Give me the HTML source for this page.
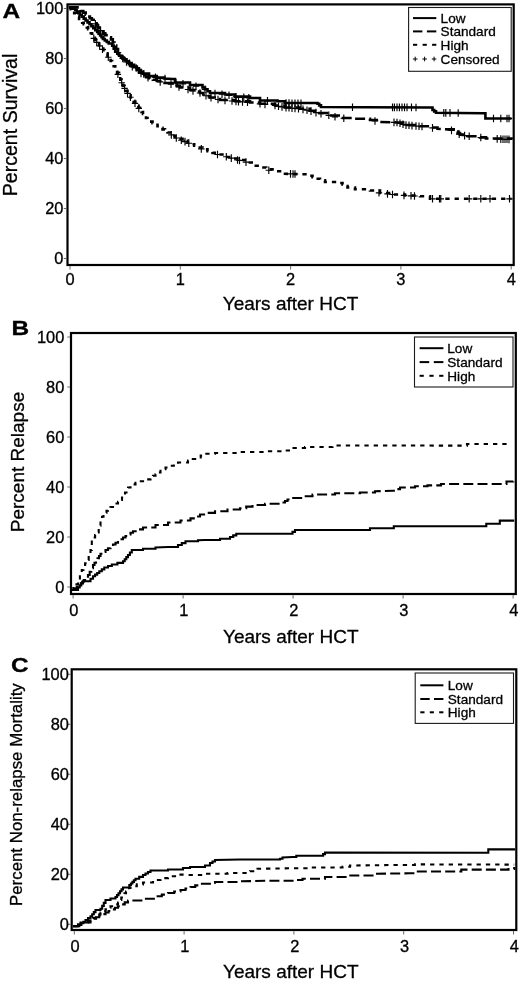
<!DOCTYPE html>
<html lang="en"><head><meta charset="utf-8"><title>Survival, relapse and non-relapse mortality after HCT</title>
<style>html,body{margin:0;padding:0;background:#fff}svg{display:block;filter:blur(0.45px)}text{font-family:'Liberation Sans', Arial, Helvetica, sans-serif;fill:#000;stroke:#000;stroke-width:0.3px}</style>
</head><body>
<svg width="520" height="982" viewBox="0 0 520 982">
<rect width="520" height="982" fill="#fff"/>
<g id="panelA">
<path d="M119.5 58.5H125.9M122.7 54.7V62.3M126.2 63.3H132.6M129.4 59.5V67.1M133.0 68.0H139.4M136.2 64.2V71.8M140.6 73.9H147.0M143.8 70.1V77.7M152.2 77.3H158.6M155.4 73.5V81.1M161.8 78.6H168.2M165.0 74.8V82.4M172.8 82.7H179.2M176.0 78.9V86.5M179.8 83.8H186.2M183.0 80.0V87.6M192.8 86.2H199.2M196.0 82.4V90.0M201.8 89.3H208.2M205.0 85.5V93.1M211.8 93.5H218.2M215.0 89.7V97.3M218.8 94.2H225.2M222.0 90.4V98.0M225.8 95.3H232.2M229.0 91.5V99.1M232.8 96.7H239.2M236.0 92.9V100.5M240.6 97.4H247.0M243.8 93.6V101.2M245.6 97.9H252.0M248.8 94.1V101.7M264.3 100.8H270.7M267.5 97.0V104.6M282.8 103.0H289.2M286.0 99.2V106.8M285.8 103.1H292.2M289.0 99.3V106.9M288.8 103.2H295.2M292.0 99.4V107.0M291.8 103.2H298.2M295.0 99.4V107.0M294.8 103.3H301.2M298.0 99.5V107.1M297.8 103.4H304.2M301.0 99.6V107.2M349.3 107.2H355.7M352.5 103.4V111.0M389.3 107.4H395.7M392.5 103.6V111.2M391.2 107.4H397.6M394.4 103.6V111.2M393.8 107.4H400.2M397.0 103.6V111.2M396.2 107.4H402.6M399.4 103.6V111.2M398.8 107.4H405.2M402.0 103.6V111.2M401.3 107.4H407.7M404.5 103.6V111.2M403.8 107.4H410.2M407.0 103.6V111.2M408.3 107.4H414.7M411.5 103.6V111.2M412.8 107.5H419.2M416.0 103.7V111.3M440.6 112.9H447.0M443.8 109.1V116.7M442.6 112.9H449.0M445.8 109.1V116.7M446.8 112.9H453.2M450.0 109.1V116.7M455.0 113.0H461.4M458.2 109.2V116.8M490.3 118.5H496.7M493.5 114.7V122.3M497.6 118.5H504.0M500.8 114.7V122.3M503.8 118.5H510.2M507.0 114.7V122.3M505.8 118.5H512.2M509.0 114.7V122.3" stroke="#000" stroke-width="1.15" fill="none"/>
<path d="M92.2 23.8H98.6M95.4 20.0V27.6M94.5 27.0H100.9M97.7 23.2V30.8M97.4 30.6H103.8M100.6 26.8V34.4M100.8 34.1H107.2M104.0 30.3V37.9M114.8 52.5H121.2M118.0 48.7V56.3M123.3 62.0H129.7M126.5 58.2V65.8M129.1 66.6H135.5M132.3 62.8V70.4M137.8 73.5H144.2M141.0 69.7V77.3M144.8 77.8H151.2M148.0 74.0V81.6M157.0 81.9H163.4M160.2 78.1V85.7M167.8 84.1H174.2M171.0 80.3V87.9M175.8 87.0H182.2M179.0 83.2V90.8M184.8 89.5H191.2M188.0 85.7V93.3M189.8 90.9H196.2M193.0 87.1V94.7M196.8 93.0H203.2M200.0 89.2V96.8M202.8 95.7H209.2M206.0 91.9V99.5M207.8 97.8H214.2M211.0 94.0V101.5M214.8 99.5H221.2M218.0 95.7V103.3M221.8 100.4H228.2M225.0 96.6V104.2M228.8 101.0H235.2M232.0 97.2V104.8M232.8 101.4H239.2M236.0 97.6V105.2M235.3 101.6H241.7M238.5 97.8V105.4M239.3 101.9H245.7M242.5 98.1V105.7M244.3 102.3H250.7M247.5 98.5V106.1M256.8 103.8H263.2M260.0 100.0V107.6M261.8 104.4H268.2M265.0 100.6V108.2M271.8 105.5H278.2M275.0 101.7V109.3M275.3 106.2H281.7M278.5 102.4V110.0M278.8 106.9H285.2M282.0 103.1V110.7M282.8 107.6H289.2M286.0 103.8V111.4M285.8 107.8H292.2M289.0 104.0V111.6M288.8 108.1H295.2M292.0 104.3V111.9M291.8 108.4H298.2M295.0 104.6V112.2M295.3 108.7H301.7M298.5 104.9V112.5M299.8 109.4H306.2M303.0 105.6V113.2M303.8 110.2H310.2M307.0 106.4V114.0M307.8 111.1H314.2M311.0 107.3V114.9M312.8 112.6H319.2M316.0 108.8V116.4M317.8 113.7H324.2M321.0 109.9V117.5M325.6 115.3H332.0M328.8 111.5V119.1M331.8 116.8H338.2M335.0 113.0V120.5M340.6 118.2H347.0M343.8 114.4V122.0M371.8 121.0H378.2M375.0 117.2V124.8M390.8 122.4H397.2M394.0 118.6V126.2M393.8 122.5H400.2M397.0 118.7V126.3M396.8 123.3H403.2M400.0 119.5V127.1M399.8 124.3H406.2M403.0 120.5V128.1M402.8 125.1H409.2M406.0 121.3V128.9M405.8 125.3H412.2M409.0 121.5V129.1M408.8 125.6H415.2M412.0 121.8V129.4M412.8 126.0H419.2M416.0 122.2V129.8M415.8 126.2H422.2M419.0 122.4V130.0M418.8 126.5H425.2M422.0 122.7V130.3M429.3 127.9H435.7M432.5 124.1V131.7M448.3 130.4H454.7M451.5 126.6V134.2M456.0 134.1H462.4M459.2 130.3V137.9M461.4 135.6H467.8M464.6 131.8V139.4M466.0 136.3H472.4M469.2 132.5V140.1M477.6 137.5H484.0M480.8 133.7V141.3M494.0 138.9H500.4M497.2 135.1V142.7M497.6 139.1H504.0M500.8 135.3V142.9M499.8 139.2H506.2M503.0 135.4V143.0M501.8 139.2H508.2M505.0 135.4V143.0M503.8 139.3H510.2M507.0 135.5V143.1M505.8 139.4H512.2M509.0 135.6V143.2" stroke="#000" stroke-width="1.15" fill="none"/>
<path d="M90.6 38.3H97.0M93.8 34.5V42.1M93.5 42.3H99.9M96.7 38.5V46.1M96.4 45.8H102.8M99.6 42.0V49.6M99.3 49.3H105.7M102.5 45.5V53.1M105.1 57.2H111.5M108.3 53.4V61.0M114.7 74.3H121.1M117.9 70.5V78.1M118.5 82.7H124.9M121.7 78.9V86.5M121.4 88.4H127.8M124.6 84.6V92.2M124.3 93.4H130.7M127.5 89.6V97.2M127.2 97.2H133.6M130.4 93.4V101.0M131.8 103.3H138.2M135.0 99.5V107.1M135.6 108.4H142.0M138.8 104.6V112.2M168.1 134.9H174.5M171.3 131.1V138.7M173.1 138.0H179.5M176.3 134.2V141.8M178.1 140.2H184.5M181.3 136.4V144.0M181.8 141.6H188.2M185.0 137.8V145.4M185.6 143.2H192.0M188.8 139.3V147.0M198.1 148.9H204.5M201.3 145.1V152.7M214.3 154.5H220.7M217.5 150.7V158.3M223.1 156.7H229.5M226.3 152.9V160.5M228.1 158.1H234.5M231.3 154.3V161.9M234.3 160.0H240.7M237.5 156.2V163.8M236.3 160.5H242.7M239.5 156.7V164.3M242.8 162.1H249.2M246.0 158.3V165.9M265.6 170.2H272.0M268.8 166.4V174.0M287.3 173.9H293.7M290.5 170.1V177.7M289.8 174.0H296.2M293.0 170.2V177.8M291.8 174.0H298.2M295.0 170.2V177.8M375.8 192.8H382.2M379.0 188.9V196.6M384.3 193.9H390.7M387.5 190.1V197.7M389.3 194.5H395.7M392.5 190.7V198.3M400.8 195.4H407.2M404.0 191.6V199.2M407.8 195.8H414.2M411.0 192.0V199.6M411.3 196.0H417.7M414.5 192.2V199.8M429.3 198.8H435.7M432.5 195.0V202.6M436.3 198.8H442.7M439.5 195.0V202.6M437.6 198.8H444.0M440.8 195.0V202.6M466.0 198.8H472.4M469.2 195.0V202.6M477.6 198.8H484.0M480.8 195.0V202.6M486.8 198.8H493.2M490.0 195.0V202.6M506.3 198.8H512.7M509.5 195.0V202.6" stroke="#000" stroke-width="1.15" fill="none"/>
<polyline points="68.9,7.4 70.7,7.4 70.7,9.3 72.5,9.3 72.5,11.2 74.2,11.2 74.2,13.1 76.0,13.1 76.0,15.0 77.5,15.0 77.5,16.9 79.1,16.9 79.1,18.9 80.7,18.9 80.7,20.9 82.2,20.9 82.2,22.8 83.7,22.8 83.7,24.3 85.3,24.3 85.3,25.9 86.8,25.9 86.8,27.4 88.1,27.4 88.1,29.3 89.5,29.3 89.5,31.3 90.8,31.3 90.8,33.2 92.1,33.2 92.1,35.5 93.5,35.5 93.5,37.7 94.8,37.7 94.8,40.0 96.2,40.0 96.2,41.8 97.7,41.8 97.7,43.5 99.1,43.5 99.1,45.2 100.6,45.2 100.6,47.0 101.9,47.0 101.9,48.6 103.3,48.6 103.3,50.2 104.7,50.2 104.7,51.8 106.0,51.8 106.0,53.4 107.5,53.4 107.5,55.9 109.1,55.9 109.1,58.5 110.6,58.5 110.6,61.0 112.1,61.0 112.1,63.6 113.7,63.6 113.7,66.2 115.2,66.2 115.2,68.8 117.1,68.8 117.1,72.7 119.0,72.7 119.0,76.5 120.3,76.5 120.3,79.6 121.7,79.6 121.7,82.6 123.0,82.6 123.0,85.7 124.5,85.7 124.5,88.3 126.0,88.3 126.0,90.8 127.5,90.8 127.5,93.4 129.1,93.4 129.1,95.4 130.6,95.4 130.6,97.5 132.2,97.5 132.2,99.5 133.7,99.5 133.7,101.6 135.3,101.6 135.3,103.6 136.8,103.6 136.8,105.7 138.4,105.7 138.4,107.8 140.0,107.8 140.0,110.0 141.5,110.0 141.5,112.0 143.0,112.0 143.0,114.0 144.5,114.0 144.5,116.0 146.0,116.0 146.0,118.0 147.5,118.0 147.5,120.0 150.0,120.0 150.0,121.6 152.5,121.6 152.5,123.2 155.0,123.2 155.0,124.7 157.5,124.7 157.5,126.3 160.0,126.3 160.0,127.8 162.5,127.8 162.5,129.4 165.0,129.4 165.0,130.9 167.5,130.9 167.5,132.5 170.0,132.5 170.0,134.1 172.5,134.1 172.5,135.7 175.0,135.7 175.0,137.2 177.5,137.2 177.5,138.8 182.5,138.8 182.5,140.7 187.5,140.7 187.5,142.5 190.8,142.5 190.8,144.2 194.2,144.2 194.2,145.8 197.5,145.8 197.5,147.5 202.5,147.5 202.5,149.4 207.5,149.4 207.5,151.3 212.5,151.3 212.5,152.9 217.5,152.9 217.5,154.5 227.5,154.5 227.5,157.0 232.5,157.0 232.5,158.5 237.5,158.5 237.5,160.0 247.5,160.0 247.5,162.5 251.7,162.5 251.7,164.2 255.8,164.2 255.8,165.8 260.0,165.8 260.0,167.5 266.2,167.5 266.2,169.4 272.5,169.4 272.5,171.3 285.0,171.3 285.0,173.8 307.5,174.3 310.0,174.3 310.0,175.8 312.5,175.8 312.5,177.3 315.0,177.3 315.0,178.8 320.0,178.8 320.0,180.4 325.0,180.4 325.0,182.0 340.0,182.0 340.0,183.0 342.5,183.0 342.5,184.5 345.0,184.5 345.0,186.0 347.5,186.0 347.5,187.5 355.0,187.5 355.0,189.3 370.0,189.3 370.0,190.5 380.0,190.5 380.0,193.0 392.5,193.0 392.5,194.5 405.0,194.5 405.0,195.5 420.0,195.5 420.0,196.3 430.0,196.3 430.0,198.8 511.5,198.8" fill="none" stroke="#000" stroke-width="2.6" stroke-linejoin="miter" stroke-dasharray="4.3 5"/>
<polyline points="68.9,7.4 77.5,7.4 77.5,9.6 80.4,9.6 80.4,11.1 83.3,11.1 83.3,12.6 85.7,12.6 85.7,14.6 88.0,14.6 88.0,16.6 89.9,16.6 89.9,18.2 91.8,18.2 91.8,19.8 93.7,19.8 93.7,21.4 95.2,21.4 95.2,23.4 96.6,23.4 96.6,25.4 98.0,25.4 98.0,27.5 99.5,27.5 99.5,29.5 101.4,29.5 101.4,31.4 103.3,31.4 103.3,33.4 105.2,33.4 105.2,35.3 108.1,35.3 108.1,37.3 111.0,37.3 111.0,39.4 112.8,39.4 112.8,42.5 114.5,42.5 114.5,45.5 116.2,45.5 116.2,49.0 118.0,49.0 118.0,52.5 119.5,52.5 119.5,54.5 121.0,54.5 121.0,56.6 122.5,56.6 122.5,58.6 124.7,58.6 124.7,60.5 126.8,60.5 126.8,62.3 129.0,62.3 129.0,64.2 131.6,64.2 131.6,66.1 134.2,66.1 134.2,67.9 136.8,67.9 136.8,69.8 138.9,69.8 138.9,71.6 140.9,71.6 140.9,73.4 143.0,73.4 143.0,75.2 146.0,75.2 146.0,76.8 149.0,76.8 149.0,78.3 152.9,78.3 152.9,79.7 156.8,79.7 156.8,81.0 164.5,81.0 164.5,83.0 173.7,83.0 173.7,84.6 176.8,84.6 176.8,86.0 180.0,86.0 180.0,87.5 190.0,87.5 190.0,90.0 195.0,90.0 195.0,91.5 200.0,91.5 200.0,93.0 203.3,93.0 203.3,94.5 206.7,94.5 206.7,96.0 210.0,96.0 210.0,97.5 220.0,97.5 220.0,100.0 235.0,100.0 235.0,101.3 250.0,101.3 250.0,102.5 260.0,102.5 260.0,103.8 275.0,103.8 275.0,105.5 285.0,105.5 285.0,107.5 300.0,107.5 300.0,108.8 310.0,108.8 310.0,110.8 317.5,110.8 317.5,113.0 330.0,113.0 330.0,115.5 340.0,115.5 340.0,118.0 355.0,118.0 355.0,118.8 370.0,118.8 370.0,120.0 380.0,120.0 380.0,122.0 397.5,122.5 405.0,122.5 405.0,125.0 420.0,125.0 420.0,126.3 430.0,126.3 430.0,127.5 437.5,127.5 437.5,128.8 447.7,129.4 455.4,129.4 455.4,131.5 457.7,131.5 457.7,133.1 460.0,133.1 460.0,134.6 467.7,134.6 467.7,136.2 480.0,136.2 480.0,137.4 486.0,137.4 486.0,138.5 511.5,138.5 511.5,139.5" fill="none" stroke="#000" stroke-width="2.6" stroke-linejoin="miter" stroke-dasharray="10 4.2"/>
<polyline points="68.9,7.4 72.1,7.4 72.1,8.7 75.2,8.7 75.2,10.0 76.7,10.0 76.7,11.6 78.3,11.6 78.3,13.1 79.8,13.1 79.8,14.7 81.7,14.7 81.7,16.6 83.7,16.6 83.7,18.6 85.6,18.6 85.6,20.5 87.5,20.5 87.5,22.4 89.5,22.4 89.5,24.3 91.4,24.3 91.4,26.2 93.3,26.2 93.3,28.1 95.3,28.1 95.3,30.1 97.2,30.1 97.2,32.0 98.6,32.0 98.6,33.8 100.1,33.8 100.1,35.5 101.5,35.5 101.5,37.2 102.9,37.2 102.9,39.0 104.8,39.0 104.8,40.5 106.8,40.5 106.8,42.0 108.7,42.0 108.7,43.5 112.2,43.5 112.2,45.6 113.7,45.6 113.7,48.7 115.2,48.7 115.2,51.8 117.3,51.8 117.3,53.7 119.3,53.7 119.3,55.7 121.4,55.7 121.4,57.6 123.9,57.6 123.9,59.4 126.5,59.4 126.5,61.2 129.0,61.2 129.0,63.0 131.6,63.0 131.6,64.8 134.2,64.8 134.2,66.6 136.8,66.6 136.8,68.4 138.9,68.4 138.9,70.1 140.9,70.1 140.9,71.9 143.0,71.9 143.0,73.6 149.0,73.6 149.0,76.0 156.8,76.0 156.8,77.6 164.5,77.6 164.5,78.6 172.5,79.0 175.0,79.0 175.0,82.5 190.0,82.5 190.0,85.0 202.5,85.0 202.5,87.5 205.0,87.5 205.0,89.3 207.5,89.3 207.5,91.2 210.0,91.2 210.0,93.0 225.0,93.0 225.0,94.5 235.0,94.5 235.0,96.6 250.0,96.6 250.0,98.0 260.0,98.0 260.0,100.5 277.5,100.5 277.5,101.3 285.0,101.3 285.0,103.0 317.5,103.0 317.5,103.8 319.2,103.8 319.2,105.4 321.0,105.4 321.0,107.0 365.0,107.3 430.0,107.5 432.5,107.5 432.5,110.0 434.2,110.0 434.2,111.4 436.0,111.4 436.0,112.8 483.0,113.2 485.4,113.2 485.4,118.5 511.5,118.5" fill="none" stroke="#000" stroke-width="2.6" stroke-linejoin="miter"/>
<rect x="67.5" y="4.4" width="446.20000000000005" height="260.6" fill="none" stroke="#000" stroke-width="2.2"/>
<text transform="translate(63.4 14.0) scale(1.04 1)" font-size="15.8" text-anchor="end">100</text>
<line x1="63.800000000000004" y1="8.5" x2="66.4" y2="8.5" stroke="#444" stroke-width="0.8"/>
<text transform="translate(63.4 64.0) scale(1.04 1)" font-size="15.8" text-anchor="end">80</text>
<line x1="63.800000000000004" y1="58.5" x2="66.4" y2="58.5" stroke="#444" stroke-width="0.8"/>
<text transform="translate(63.4 114.0) scale(1.04 1)" font-size="15.8" text-anchor="end">60</text>
<line x1="63.800000000000004" y1="108.5" x2="66.4" y2="108.5" stroke="#444" stroke-width="0.8"/>
<text transform="translate(63.4 164.0) scale(1.04 1)" font-size="15.8" text-anchor="end">40</text>
<line x1="63.800000000000004" y1="158.5" x2="66.4" y2="158.5" stroke="#444" stroke-width="0.8"/>
<text transform="translate(63.4 214.0) scale(1.04 1)" font-size="15.8" text-anchor="end">20</text>
<line x1="63.800000000000004" y1="208.5" x2="66.4" y2="208.5" stroke="#444" stroke-width="0.8"/>
<text transform="translate(63.4 264.0) scale(1.04 1)" font-size="15.8" text-anchor="end">0</text>
<line x1="63.800000000000004" y1="258.5" x2="66.4" y2="258.5" stroke="#444" stroke-width="0.8"/>
<text transform="translate(70.0 285.2) scale(1.04 1)" font-size="15.8" text-anchor="middle">0</text>
<line x1="70.0" y1="266.1" x2="70.0" y2="269.5" stroke="#444" stroke-width="0.8"/>
<text transform="translate(180.3 285.2) scale(1.04 1)" font-size="15.8" text-anchor="middle">1</text>
<line x1="180.3" y1="266.1" x2="180.3" y2="269.5" stroke="#444" stroke-width="0.8"/>
<text transform="translate(290.6 285.2) scale(1.04 1)" font-size="15.8" text-anchor="middle">2</text>
<line x1="290.6" y1="266.1" x2="290.6" y2="269.5" stroke="#444" stroke-width="0.8"/>
<text transform="translate(400.9 285.2) scale(1.04 1)" font-size="15.8" text-anchor="middle">3</text>
<line x1="400.9" y1="266.1" x2="400.9" y2="269.5" stroke="#444" stroke-width="0.8"/>
<text transform="translate(511.2 285.2) scale(1.04 1)" font-size="15.8" text-anchor="middle">4</text>
<line x1="511.2" y1="266.1" x2="511.2" y2="269.5" stroke="#444" stroke-width="0.8"/>
<text x="290.5" y="309.7" font-size="19" text-anchor="middle">Years after HCT</text>
<text transform="translate(17.3 125.0) rotate(-90)" font-size="19.6" text-anchor="middle">Percent Survival</text>
<text transform="translate(2.6 18.2) scale(1.26 1)" font-size="19.4" font-weight="bold">A</text>
<rect x="408.6" y="7.5" width="102.59999999999997" height="63.8" fill="#fff" stroke="#1a1a1a" stroke-width="1.1"/>
<line x1="413" y1="18.1" x2="436.3" y2="18.1" stroke="#000" stroke-width="2"/>
<text x="440.6" y="22.9" font-size="13.6">Low</text>
<line x1="413" y1="31.4" x2="422.4" y2="31.4" stroke="#000" stroke-width="2"/>
<line x1="426.9" y1="31.4" x2="436.3" y2="31.4" stroke="#000" stroke-width="2"/>
<text x="440.6" y="36.2" font-size="13.6">Standard</text>
<line x1="413.0" y1="44.8" x2="417.2" y2="44.8" stroke="#000" stroke-width="2"/>
<line x1="422.6" y1="44.8" x2="426.8" y2="44.8" stroke="#000" stroke-width="2"/>
<line x1="432.1" y1="44.8" x2="436.3" y2="44.8" stroke="#000" stroke-width="2"/>
<text x="440.6" y="49.6" font-size="13.6">High</text>
<path d="M412.9 59.0H417.5M415.2 56.7V61.3M422.3 59.0H426.9M424.6 56.7V61.3M431.8 59.0H436.4M434.1 56.7V61.3" stroke="#000" stroke-width="1" fill="none"/>
<text x="440.6" y="63.8" font-size="13.6">Censored</text>
</g>
<g id="panelB">
<polyline points="71.8,590.0 73.3,590.0 73.3,588.1 74.9,588.1 74.9,586.2 76.5,586.2 76.5,584.4 78.0,584.4 78.0,582.5 79.9,582.5 79.9,576.2 81.8,576.2 81.8,570.0 83.5,570.0 83.5,566.7 85.1,566.7 85.1,563.3 86.8,563.3 86.8,560.0 88.7,560.0 88.7,555.0 90.5,555.0 90.5,550.0 91.8,550.0 91.8,540.0 93.5,540.0 93.5,537.5 95.1,537.5 95.1,535.0 96.8,535.0 96.8,532.5 98.7,532.5 98.7,525.6 100.5,525.6 100.5,518.8 102.0,518.8 102.0,516.8 103.5,516.8 103.5,514.8 105.0,514.8 105.0,512.8 106.5,512.8 106.5,510.8 108.0,510.8 108.0,508.8 110.5,508.8 110.5,507.0 113.0,507.0 113.0,505.3 115.5,505.3 115.5,503.5 118.0,503.5 118.0,501.8 120.5,501.8 120.5,500.0 122.0,500.0 122.0,497.5 123.5,497.5 123.5,495.0 125.0,495.0 125.0,492.5 126.5,492.5 126.5,490.0 128.0,490.0 128.0,487.5 130.5,487.5 130.5,485.9 133.0,485.9 133.0,484.4 135.5,484.4 135.5,482.9 138.0,482.9 138.0,481.3 144.2,481.3 144.2,479.4 150.5,479.4 150.5,477.5 153.0,477.5 153.0,475.8 155.5,475.8 155.5,474.2 158.0,474.2 158.0,472.5 160.5,472.5 160.5,470.8 163.0,470.8 163.0,469.2 165.5,469.2 165.5,467.5 169.7,467.5 169.7,465.8 173.8,465.8 173.8,464.2 178.0,464.2 178.0,462.5 188.0,462.5 188.0,460.5 192.8,460.5 192.8,459.0 197.5,459.0 197.5,457.5 200.7,457.5 200.7,455.6 203.8,455.6 203.8,453.8 215.0,453.8 215.0,453.0 240.0,453.0 240.0,452.0 265.0,452.0 265.0,451.3 282.5,451.3 282.5,450.5 290.0,450.5 290.0,448.0 305.0,448.0 305.0,447.0 327.5,447.0 332.5,447.0 332.5,445.5 462.3,445.6 467.0,445.6 467.0,444.0 508.5,444.0" fill="none" stroke="#000" stroke-width="2.1" stroke-linejoin="miter" stroke-dasharray="4.3 5"/>
<polyline points="71.8,590.0 74.3,590.0 74.3,588.3 76.8,588.3 76.8,586.7 79.3,586.7 79.3,585.0 80.8,585.0 80.8,583.3 82.2,583.3 82.2,581.7 83.7,581.7 83.7,580.0 85.1,580.0 85.1,578.3 86.5,578.3 86.5,576.7 88.0,576.7 88.0,575.0 89.7,575.0 89.7,571.7 91.3,571.7 91.3,568.3 93.0,568.3 93.0,565.0 94.5,565.0 94.5,562.8 96.0,562.8 96.0,560.5 97.5,560.5 97.5,558.3 99.0,558.3 99.0,556.0 100.5,556.0 100.5,553.8 103.0,553.8 103.0,551.9 105.5,551.9 105.5,550.0 108.0,550.0 108.0,548.2 110.5,548.2 110.5,546.3 113.0,546.3 113.0,544.5 115.5,544.5 115.5,542.8 118.0,542.8 118.0,541.0 120.5,541.0 120.5,539.3 123.0,539.3 123.0,537.5 125.5,537.5 125.5,536.0 128.0,536.0 128.0,534.4 130.5,534.4 130.5,532.8 133.0,532.8 133.0,531.3 138.0,531.3 138.0,529.4 143.0,529.4 143.0,527.5 155.5,527.5 155.5,525.0 168.0,525.0 168.0,522.5 180.5,522.5 180.5,520.5 190.5,520.5 190.5,518.4 195.2,518.4 195.2,516.5 200.0,516.5 200.0,514.5 207.5,514.5 207.5,512.9 215.0,512.9 215.0,511.3 227.5,511.3 227.5,509.5 240.0,509.5 240.0,508.3 246.2,508.3 246.2,506.6 252.5,506.6 252.5,505.0 265.0,505.0 265.0,503.8 282.5,503.8 282.5,502.5 285.0,502.5 285.0,501.0 287.5,501.0 287.5,499.5 290.0,499.5 290.0,498.0 302.5,498.0 302.5,496.3 312.5,496.3 312.5,494.5 325.0,494.5 335.0,494.5 335.0,493.3 360.0,493.3 360.0,492.5 375.0,492.5 375.0,491.3 392.5,490.8 396.2,490.8 396.2,489.1 400.0,489.1 400.0,487.5 415.0,487.5 415.0,486.3 427.5,486.3 427.5,485.4 433.5,485.4 441.0,485.4 441.0,484.0 497.0,484.0 506.5,484.0 506.5,481.5 513.3,481.5 513.3,480.0" fill="none" stroke="#000" stroke-width="2.1" stroke-linejoin="miter" stroke-dasharray="10 4.2"/>
<polyline points="71.8,590.0 78.0,590.0 78.0,587.5 79.7,587.5 79.7,585.4 81.3,585.4 81.3,583.4 83.0,583.4 83.0,581.3 90.5,581.3 90.5,578.8 93.0,578.8 93.0,576.3 95.1,576.3 95.1,574.6 97.2,574.6 97.2,573.0 99.3,573.0 99.3,571.3 101.8,571.3 101.8,569.4 104.3,569.4 104.3,567.5 108.0,567.5 108.0,566.0 111.8,566.0 111.8,564.5 117.4,564.5 117.4,562.9 123.0,562.9 123.0,561.3 124.7,561.3 124.7,559.2 126.3,559.2 126.3,557.1 128.0,557.1 128.0,555.0 129.9,555.0 129.9,552.5 131.8,552.5 131.8,550.0 143.0,550.0 143.0,548.8 155.5,548.8 155.5,547.5 168.0,547.0 178.0,547.0 178.0,545.0 181.8,545.0 181.8,543.1 185.5,543.1 185.5,541.3 198.0,541.3 198.0,540.3 205.0,540.0 220.0,540.0 220.0,538.8 230.0,538.8 230.0,537.0 233.2,537.0 233.2,535.4 236.3,535.4 236.3,533.8 290.0,533.8 292.5,533.8 292.5,531.9 295.0,531.9 295.0,530.0 366.3,530.0 370.0,530.0 370.0,528.3 390.0,528.3 393.8,528.3 393.8,526.3 484.4,526.2 486.3,526.2 486.3,523.8 498.0,523.8 499.8,523.8 499.8,520.6 514.2,520.6" fill="none" stroke="#000" stroke-width="2.1" stroke-linejoin="miter"/>
<rect x="71" y="333" width="444.79999999999995" height="261" fill="none" stroke="#000" stroke-width="2.2"/>
<text transform="translate(64.3 342.5) scale(1.04 1)" font-size="15.8" text-anchor="end">100</text>
<line x1="67.30000000000001" y1="337.0" x2="69.9" y2="337.0" stroke="#444" stroke-width="0.8"/>
<text transform="translate(64.3 392.5) scale(1.04 1)" font-size="15.8" text-anchor="end">80</text>
<line x1="67.30000000000001" y1="387.0" x2="69.9" y2="387.0" stroke="#444" stroke-width="0.8"/>
<text transform="translate(64.3 442.5) scale(1.04 1)" font-size="15.8" text-anchor="end">60</text>
<line x1="67.30000000000001" y1="437.0" x2="69.9" y2="437.0" stroke="#444" stroke-width="0.8"/>
<text transform="translate(64.3 492.5) scale(1.04 1)" font-size="15.8" text-anchor="end">40</text>
<line x1="67.30000000000001" y1="487.0" x2="69.9" y2="487.0" stroke="#444" stroke-width="0.8"/>
<text transform="translate(64.3 542.5) scale(1.04 1)" font-size="15.8" text-anchor="end">20</text>
<line x1="67.30000000000001" y1="537.0" x2="69.9" y2="537.0" stroke="#444" stroke-width="0.8"/>
<text transform="translate(64.3 592.5) scale(1.04 1)" font-size="15.8" text-anchor="end">0</text>
<line x1="67.30000000000001" y1="587.0" x2="69.9" y2="587.0" stroke="#444" stroke-width="0.8"/>
<text transform="translate(73.9 616) scale(1.04 1)" font-size="15.8" text-anchor="middle">0</text>
<line x1="73.1" y1="595.1" x2="73.1" y2="598.5" stroke="#444" stroke-width="0.8"/>
<text transform="translate(183.9 616) scale(1.04 1)" font-size="15.8" text-anchor="middle">1</text>
<line x1="183.1" y1="595.1" x2="183.1" y2="598.5" stroke="#444" stroke-width="0.8"/>
<text transform="translate(293.9 616) scale(1.04 1)" font-size="15.8" text-anchor="middle">2</text>
<line x1="293.1" y1="595.1" x2="293.1" y2="598.5" stroke="#444" stroke-width="0.8"/>
<text transform="translate(403.9 616) scale(1.04 1)" font-size="15.8" text-anchor="middle">3</text>
<line x1="403.1" y1="595.1" x2="403.1" y2="598.5" stroke="#444" stroke-width="0.8"/>
<text transform="translate(513.9 616) scale(1.04 1)" font-size="15.8" text-anchor="middle">4</text>
<line x1="513.1" y1="595.1" x2="513.1" y2="598.5" stroke="#444" stroke-width="0.8"/>
<text x="290.75" y="643.2" font-size="19" text-anchor="middle">Years after HCT</text>
<text transform="translate(23.9 462) rotate(-90)" font-size="19" text-anchor="middle">Percent Relapse</text>
<text transform="translate(11.6 335) scale(1.26 1)" font-size="19.4" font-weight="bold">B</text>
<rect x="414.5" y="337" width="98.5" height="50" fill="#fff" stroke="#1a1a1a" stroke-width="1.1"/>
<line x1="419.6" y1="348.2" x2="443.4" y2="348.2" stroke="#000" stroke-width="2"/>
<text x="447.3" y="353.0" font-size="13.6">Low</text>
<line x1="419.6" y1="362.1" x2="429.2" y2="362.1" stroke="#000" stroke-width="2"/>
<line x1="433.8" y1="362.1" x2="443.4" y2="362.1" stroke="#000" stroke-width="2"/>
<text x="447.3" y="366.9" font-size="13.6">Standard</text>
<line x1="419.6" y1="375.8" x2="423.8" y2="375.8" stroke="#000" stroke-width="2"/>
<line x1="429.4" y1="375.8" x2="433.6" y2="375.8" stroke="#000" stroke-width="2"/>
<line x1="439.2" y1="375.8" x2="443.4" y2="375.8" stroke="#000" stroke-width="2"/>
<text x="447.3" y="380.6" font-size="13.6">High</text>
</g>
<g id="panelC">
<polyline points="73.0,926.3 76.8,926.3 76.8,924.4 80.5,924.4 80.5,922.5 90.5,922.5 90.5,920.0 93.0,920.0 93.0,918.1 95.5,918.1 95.5,916.2 98.0,916.2 98.0,914.4 100.5,914.4 100.5,912.5 103.0,912.5 103.0,911.0 105.5,911.0 105.5,909.4 108.0,909.4 108.0,907.8 110.5,907.8 110.5,906.3 114.2,906.3 114.2,904.4 118.0,904.4 118.0,902.5 119.7,902.5 119.7,900.0 121.3,900.0 121.3,897.5 123.0,897.5 123.0,895.0 124.5,895.0 124.5,893.3 126.0,893.3 126.0,891.5 127.5,891.5 127.5,889.8 129.0,889.8 129.0,888.0 130.5,888.0 130.5,886.3 136.8,886.3 136.8,884.4 143.0,884.4 143.0,882.5 153.0,882.5 153.0,880.0 160.5,880.0 160.5,878.1 168.0,878.1 168.0,876.3 180.5,876.3 180.5,874.5 190.0,875.0 205.0,875.0 205.0,873.8 227.5,873.8 227.5,873.0 250.0,873.0 250.0,871.3 257.5,871.3 257.5,868.8 290.0,868.3 310.0,868.3 310.0,867.5 342.5,867.5 342.5,866.8 350.0,866.8 350.0,865.5 395.0,865.0 415.0,865.0 415.0,864.4 514.2,864.6" fill="none" stroke="#000" stroke-width="2.1" stroke-linejoin="miter" stroke-dasharray="4.3 5"/>
<polyline points="73.0,926.3 78.0,926.3 78.0,924.4 83.0,924.4 83.0,922.5 88.0,922.5 88.0,920.6 93.0,920.6 93.0,918.8 96.1,918.8 96.1,917.2 99.2,917.2 99.2,915.6 102.4,915.6 102.4,914.1 105.5,914.1 105.5,912.5 108.6,912.5 108.6,911.0 111.8,911.0 111.8,909.4 114.9,909.4 114.9,907.8 118.0,907.8 118.0,906.3 121.3,906.3 121.3,904.4 124.7,904.4 124.7,902.4 128.0,902.4 128.0,900.5 143.0,900.5 143.0,898.8 155.5,898.8 155.5,896.3 161.8,896.3 161.8,894.6 168.0,894.6 168.0,893.0 174.2,893.0 174.2,891.5 180.5,891.5 180.5,890.0 185.5,890.0 185.5,888.5 190.5,888.5 190.5,887.0 195.2,887.0 195.2,885.4 200.0,885.4 200.0,883.8 215.0,883.8 215.0,882.0 240.0,882.0 240.0,881.3 265.0,880.8 295.0,880.8 295.0,880.0 302.5,880.0 302.5,878.8 325.0,878.8 325.0,877.0 347.5,877.0 347.5,875.5 372.5,875.5 372.5,873.8 410.0,873.3 415.0,873.3 415.0,871.5 458.5,871.5 461.3,871.5 461.3,869.6 508.5,869.6 508.5,869.0 514.2,869.0 514.2,867.0" fill="none" stroke="#000" stroke-width="2.1" stroke-linejoin="miter" stroke-dasharray="10 4.2"/>
<polyline points="73.0,926.3 79.3,926.3 79.3,925.0 81.4,925.0 81.4,923.3 83.4,923.3 83.4,921.7 85.5,921.7 85.5,920.0 88.0,920.0 88.0,918.1 90.5,918.1 90.5,916.3 92.2,916.3 92.2,914.2 93.8,914.2 93.8,912.1 95.5,912.1 95.5,910.0 100.5,910.0 100.5,908.8 102.2,908.8 102.2,905.9 103.8,905.9 103.8,902.9 105.5,902.9 105.5,900.0 110.5,900.0 110.5,898.5 115.5,898.5 115.5,897.0 117.0,897.0 117.0,895.1 118.5,895.1 118.5,893.2 120.0,893.2 120.0,891.3 121.5,891.3 121.5,889.4 123.0,889.4 123.0,887.5 129.3,887.5 129.3,885.0 130.9,885.0 130.9,883.5 132.4,883.5 132.4,881.9 133.9,881.9 133.9,880.3 135.5,880.3 135.5,878.8 139.2,878.8 139.2,876.9 143.0,876.9 143.0,875.0 145.5,875.0 145.5,873.5 148.0,873.5 148.0,872.0 150.5,872.0 150.5,870.5 168.0,870.5 168.0,869.5 183.0,869.5 183.0,868.0 190.0,868.0 190.0,867.0 205.0,867.0 205.0,865.5 210.0,865.5 210.0,863.0 212.5,863.0 212.5,861.5 215.0,861.5 215.0,860.0 240.0,859.5 280.0,859.5 280.0,858.8 282.5,858.8 282.5,857.5 292.5,857.0 296.3,857.0 296.3,855.8 321.3,855.8 323.1,855.8 323.1,854.1 325.0,854.1 325.0,852.5 487.3,852.7 488.3,852.7 488.3,849.4 515.0,849.4" fill="none" stroke="#000" stroke-width="2.1" stroke-linejoin="miter"/>
<rect x="71.7" y="669.3" width="444.59999999999997" height="260.70000000000005" fill="none" stroke="#000" stroke-width="2.2"/>
<text transform="translate(68.9 679.8) scale(1.04 1)" font-size="15.8" text-anchor="end">100</text>
<line x1="68.0" y1="674.3" x2="70.6" y2="674.3" stroke="#444" stroke-width="0.8"/>
<text transform="translate(68.9 729.8) scale(1.04 1)" font-size="15.8" text-anchor="end">80</text>
<line x1="68.0" y1="724.3" x2="70.6" y2="724.3" stroke="#444" stroke-width="0.8"/>
<text transform="translate(68.9 779.8) scale(1.04 1)" font-size="15.8" text-anchor="end">60</text>
<line x1="68.0" y1="774.3" x2="70.6" y2="774.3" stroke="#444" stroke-width="0.8"/>
<text transform="translate(68.9 829.8) scale(1.04 1)" font-size="15.8" text-anchor="end">40</text>
<line x1="68.0" y1="824.3" x2="70.6" y2="824.3" stroke="#444" stroke-width="0.8"/>
<text transform="translate(68.9 879.8) scale(1.04 1)" font-size="15.8" text-anchor="end">20</text>
<line x1="68.0" y1="874.3" x2="70.6" y2="874.3" stroke="#444" stroke-width="0.8"/>
<text transform="translate(68.9 929.8) scale(1.04 1)" font-size="15.8" text-anchor="end">0</text>
<line x1="68.0" y1="924.3" x2="70.6" y2="924.3" stroke="#444" stroke-width="0.8"/>
<text transform="translate(75.1 952.2) scale(1.04 1)" font-size="15.8" text-anchor="middle">0</text>
<line x1="74.3" y1="931.1" x2="74.3" y2="934.5" stroke="#444" stroke-width="0.8"/>
<text transform="translate(184.9 952.2) scale(1.04 1)" font-size="15.8" text-anchor="middle">1</text>
<line x1="184.1" y1="931.1" x2="184.1" y2="934.5" stroke="#444" stroke-width="0.8"/>
<text transform="translate(294.7 952.2) scale(1.04 1)" font-size="15.8" text-anchor="middle">2</text>
<line x1="293.9" y1="931.1" x2="293.9" y2="934.5" stroke="#444" stroke-width="0.8"/>
<text transform="translate(404.5 952.2) scale(1.04 1)" font-size="15.8" text-anchor="middle">3</text>
<line x1="403.7" y1="931.1" x2="403.7" y2="934.5" stroke="#444" stroke-width="0.8"/>
<text transform="translate(514.3 952.2) scale(1.04 1)" font-size="15.8" text-anchor="middle">4</text>
<line x1="513.5" y1="931.1" x2="513.5" y2="934.5" stroke="#444" stroke-width="0.8"/>
<text x="290.75" y="978.4" font-size="19" text-anchor="middle">Years after HCT</text>
<text transform="translate(22.4 794.6) rotate(-90)" font-size="16.85" text-anchor="middle">Percent Non-relapse Mortality</text>
<text transform="translate(10.9 672.3) scale(1.26 1)" font-size="19.4" font-weight="bold">C</text>
<rect x="415.2" y="673" width="98.30000000000001" height="50.39999999999998" fill="#fff" stroke="#1a1a1a" stroke-width="1.1"/>
<line x1="420.3" y1="685.3" x2="443.4" y2="685.3" stroke="#000" stroke-width="2"/>
<text x="447.8" y="690.1" font-size="13.6">Low</text>
<line x1="420.3" y1="699" x2="429.7" y2="699" stroke="#000" stroke-width="2"/>
<line x1="434.0" y1="699" x2="443.4" y2="699" stroke="#000" stroke-width="2"/>
<text x="447.8" y="703.8" font-size="13.6">Standard</text>
<line x1="420.3" y1="712.3" x2="424.5" y2="712.3" stroke="#000" stroke-width="2"/>
<line x1="429.8" y1="712.3" x2="433.9" y2="712.3" stroke="#000" stroke-width="2"/>
<line x1="439.2" y1="712.3" x2="443.4" y2="712.3" stroke="#000" stroke-width="2"/>
<text x="447.8" y="717.1" font-size="13.6">High</text>
</g>
</svg>
</body></html>
